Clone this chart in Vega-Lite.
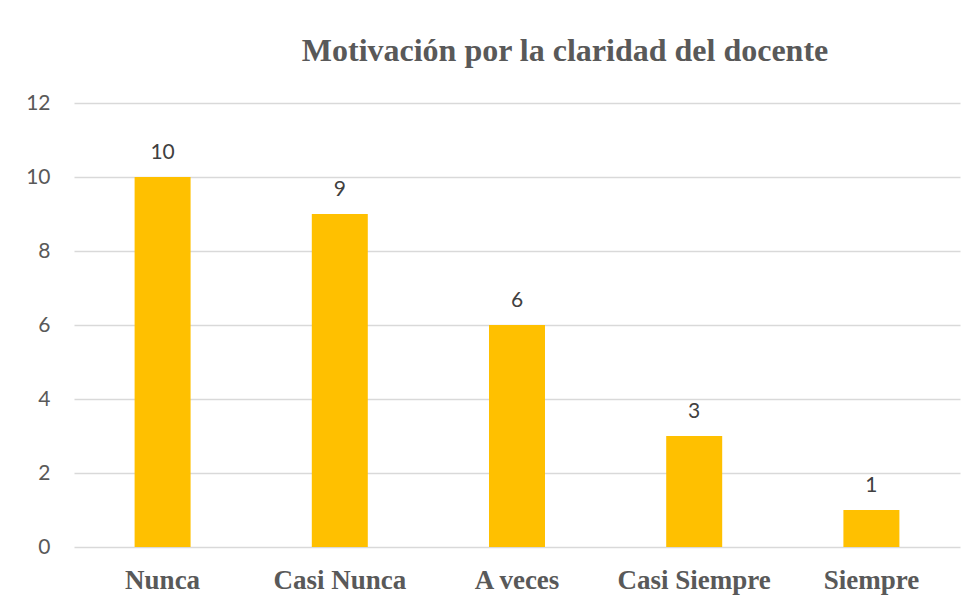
{
  "$schema": "https://vega.github.io/schema/vega-lite/v6.json",
  "width": 886,
  "height": 444,
  "autosize": {"type": "none"},
  "padding": {"left": 74, "top": 103, "right": 16, "bottom": 56},
  "background": "white",
  "title": {
    "text": "Motivación por la claridad del docente",
    "font": "Liberation Serif",
    "fontSize": 32,
    "fontWeight": "bold",
    "color": "#595959",
    "anchor": "middle",
    "dx": 48,
    "baseline": "alphabetic",
    "offset": -1
  },
  "data": {
    "values": [
      {"categoria": "Nunca", "valor": 10},
      {"categoria": "Casi Nunca", "valor": 9},
      {"categoria": "A veces", "valor": 6},
      {"categoria": "Casi Siempre", "valor": 3},
      {"categoria": "Siempre", "valor": 1}
    ]
  },
  "encoding": {
    "x": {
      "field": "categoria",
      "type": "nominal",
      "sort": null,
      "scale": {"paddingInner": 0.684, "paddingOuter": 0.342},
      "axis": {
        "title": null,
        "labelAngle": 0,
        "labelFont": "Liberation Serif",
        "labelFontSize": 27,
        "labelFontWeight": "bold",
        "labelColor": "#595959",
        "labelBaseline": "alphabetic",
        "labelPadding": 41,
        "ticks": false,
        "domain": false,
        "grid": false
      }
    },
    "y": {
      "field": "valor",
      "type": "quantitative",
      "scale": {"domain": [0, 12]},
      "axis": {
        "title": null,
        "values": [0, 2, 4, 6, 8, 10, 12],
        "labelFont": "Lato",
        "labelFontSize": 21,
        "labelColor": "#595959",
        "labelPadding": 24,
        "ticks": false,
        "domain": false,
        "grid": true,
        "gridColor": "#d9d9d9",
        "gridWidth": 1.5
      }
    }
  },
  "layer": [
    {"mark": {"type": "bar", "color": "#FFC000"}},
    {
      "mark": {
        "type": "text",
        "font": "Lato",
        "fontSize": 21,
        "color": "#404040",
        "baseline": "alphabetic",
        "dy": -18
      },
      "encoding": {"text": {"field": "valor", "type": "quantitative"}}
    }
  ],
  "config": {"view": {"stroke": null}}
}
